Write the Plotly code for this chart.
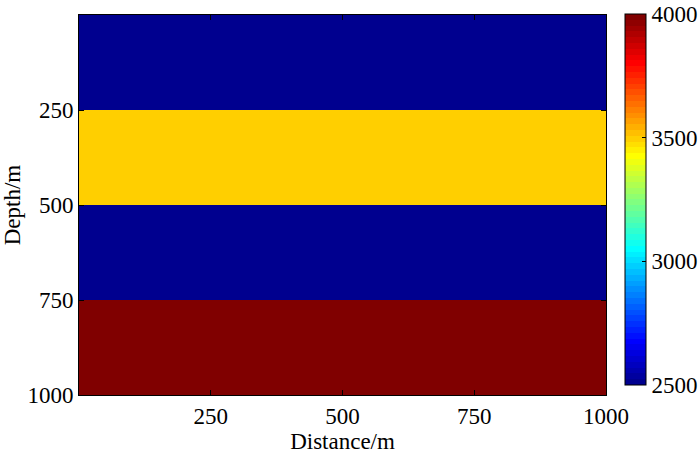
import numpy as np
import plotly.graph_objects as go

# layer model: depth boundaries and velocity of each layer
depth_edges = [0, 250, 500, 750, 1000]
distance_edges = [0, 1000]
velocity = [2500, 3500, 2500, 4000]

x_ticks = [250, 500, 750, 1000]
y_ticks = [250, 500, 750, 1000]
cbar_ticks = [2500, 3000, 3500, 4000]


# matlab style jet(64), drawn as discrete bands like the original colorbar
def matlab_jet(m=64):
    n = int(np.ceil(m / 4))
    u = np.concatenate([np.arange(1, n + 1) / n, np.ones(n - 1), np.arange(n, 0, -1) / n])
    g = int(np.ceil(n / 2)) - (1 if m % 4 == 1 else 0) + np.arange(1, len(u) + 1)
    r = g + n
    b = g - n
    cmap = np.zeros((m, 3))
    for idx, col in ((r, 0), (g, 1), (b, 2)):
        ok = (idx >= 1) & (idx <= m)
        cmap[idx[ok] - 1, col] = u[ok]
    scale = []
    for i, c in enumerate(cmap):
        rgb = 'rgb(%d,%d,%d)' % tuple(np.round(c * 255))
        scale.append([i / m, rgb])
        scale.append([(i + 1) / m, rgb])
    return scale


W, H = 700, 456
# plot box in pixels (left, right, top, bottom)
L, R, T, B = 79, 606, 15, 395
CB_LEFT, CB_TOP = 625, 14

z = [[v] for v in velocity]
font = dict(family='Liberation Serif, Times New Roman, serif', size=23, color='black')

fig = go.Figure()
fig.add_trace(go.Heatmap(
    x=distance_edges, y=depth_edges, z=z,
    zmin=2500, zmax=4000, colorscale=matlab_jet(64),
    colorbar=dict(
        x=(CB_LEFT - L) / (R - L), xanchor='left',
        y=(B - CB_TOP) / (B - T), yanchor='top',
        lenmode='pixels', len=371, thickness=21,
        outlinewidth=1, outlinecolor='black',
        tickvals=cbar_ticks, ticks='inside', ticklen=4, tickcolor='black',
        tickfont=font, xpad=0, ypad=0, ticklabeloverflow='allow',
    ),
))

fig.update_xaxes(
    range=[0, 1000], tickvals=x_ticks, ticks='inside', ticklen=5, tickcolor='black',
    showline=True, linecolor='black', linewidth=1, mirror='ticks',
    showgrid=False, zeroline=False, tickfont=font,
    title=dict(text='Distance/m', font=font, standoff=2),
)
fig.update_yaxes(
    range=[1000, 0], tickvals=y_ticks, ticks='inside', ticklen=5, tickcolor='black',
    showline=True, linecolor='black', linewidth=1, mirror='ticks',
    showgrid=False, zeroline=False, tickfont=font,
    title=dict(text='Depth/m', font=font, standoff=6),
)
fig.update_layout(
    width=W, height=H,
    margin=dict(l=L, r=W - R, t=T, b=H - B, autoexpand=False),
    plot_bgcolor='white', paper_bgcolor='white',
    font=font,
)

# drop the default page margin so the figure sits at the window corner
fig.write_html("out.html", config={'displayModeBar': False},
               post_script="document.body.style.margin='0';")
